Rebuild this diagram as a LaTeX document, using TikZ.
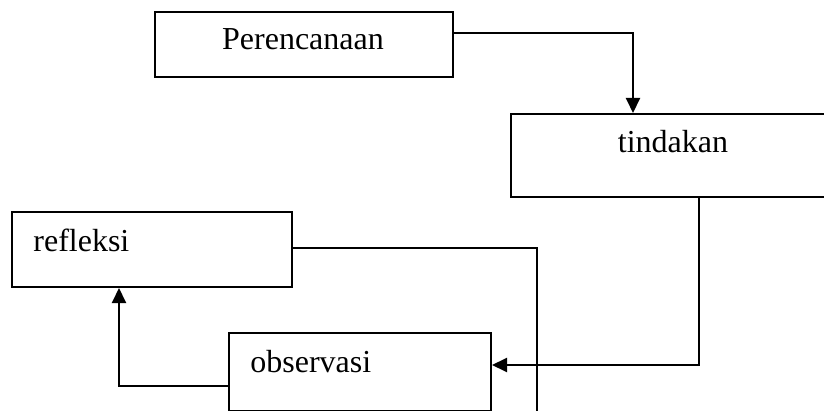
\documentclass[tikz,border=0pt]{standalone}
\usepackage{fontspec}
\setmainfont{Liberation Serif}
\usepackage{tikz}
\usetikzlibrary{arrows.meta}
\tikzset{
  stage/.style = {draw, line width=1pt, rectangle, inner sep=0pt}
}
\tikzset{
  every node/.style = {font = \fontsize{16}{19}\selectfont}
}
\tikzset{
  flow/.style = {line width=1pt},
  >={Triangle[length=7.5pt, width=7pt]}
}

\begin{document}
\begin{tikzpicture}[x=0.5pt, y=-0.5pt]
  \clip (0,0) rectangle (824,411);

  % Stages of the cycle
  \node[stage, minimum width=149pt, minimum height=32.5pt] (plan) at (304,44.5) {};
  \node[stage, minimum width=162pt, minimum height=41.5pt] (act) at (673,155.5) {};
  \node[stage, minimum width=140pt, minimum height=37.5pt] (refl) at (152,249.5) {};
  \node[stage, minimum width=131pt, minimum height=38.75pt] (obs) at (360,371.75) {};

  % Labels
  \node[anchor=base] (plan text) at (303,50) {Perencanaan};
  \node[anchor=base] (act text) at (673,153) {tindakan};
  \node[anchor=base west, inner sep=0pt] (refl text) at (33,251.5) {refleksi};
  \node[anchor=base west, inner sep=0pt] (obs text) at (250,372) {observasi};

  % Bends of the connectors
  \coordinate (c1) at (633,33);
  \coordinate (c2) at (699,365);
  \coordinate (c3) at (537,248);
  \coordinate (c3 end) at (537,411);
  \coordinate (c4) at (119,386);

  \draw[flow,->] (plan.east |- c1) -- (c1) -- (c1 |- act.north);
  \draw[flow,->] (act.south -| c2) -- (c2) -- (c2 -| obs.east);
  \draw[flow] (refl.east |- c3) -- (c3) -- (c3 end);
  \draw[flow,->] (obs.west |- c4) -- (c4) -- (c4 |- refl.south);
\end{tikzpicture}
\end{document}
